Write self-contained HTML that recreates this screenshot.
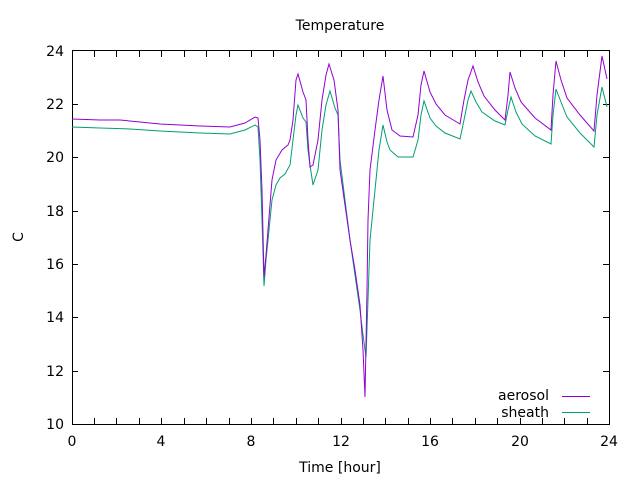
<!DOCTYPE html>
<html><head><style>body{margin:0;background:#fff}svg{display:block}text{font-family:"DejaVu Sans","Liberation Sans",sans-serif;font-size:14px;fill:#000}</style></head><body>
<svg width="640" height="480" viewBox="0 0 640 480">
<g stroke="#000" stroke-width="1" fill="none">
<rect x="72.5" y="50.5" width="537" height="374"/>
<path d="M72 371.5h6M609 371.5h-6M72 317.5h6M609 317.5h-6M72 264.5h6M609 264.5h-6M72 211.5h6M609 211.5h-6M72 157.5h6M609 157.5h-6M72 104.5h6M609 104.5h-6
M94.5 424v-6M94.5 51v6M116.5 424v-6M116.5 51v6M139.5 424v-6M139.5 51v6M161.5 424v-6M161.5 51v6M184.5 424v-6M184.5 51v6M206.5 424v-6M206.5 51v6M229.5 424v-6M229.5 51v6M251.5 424v-6M251.5 51v6M273.5 424v-6M273.5 51v6M296.5 424v-6M296.5 51v6M318.5 424v-6M318.5 51v6M341.5 424v-6M341.5 51v6M363.5 424v-6M363.5 51v6M385.5 424v-6M385.5 51v6M408.5 424v-6M408.5 51v6M430.5 424v-6M430.5 51v6M452.5 424v-6M452.5 51v6M475.5 424v-6M475.5 51v6M497.5 424v-6M497.5 51v6M520.5 424v-6M520.5 51v6M542.5 424v-6M542.5 51v6M564.5 424v-6M564.5 51v6M587.5 424v-6M587.5 51v6"/>
</g>
<g text-anchor="end">
<text x="64" y="429">10</text><text x="64" y="376">12</text><text x="64" y="322">14</text><text x="64" y="269">16</text><text x="64" y="216">18</text><text x="64" y="162">20</text><text x="64" y="109">22</text><text x="64" y="56">24</text>
</g>
<g text-anchor="middle">
<text x="72" y="446">0</text><text x="161" y="446">4</text><text x="251" y="446">8</text><text x="341" y="446">12</text><text x="430" y="446">16</text><text x="520" y="446">20</text><text x="609" y="446">24</text>
<text x="340" y="472">Time [hour]</text>
<text x="340" y="30">Temperature</text>
<text x="18" y="242" transform="rotate(-90 18 237)">C</text>
</g>
<text x="549" y="400" text-anchor="end">aerosol</text>
<text x="549" y="417" text-anchor="end">sheath</text>
<path d="M562 396.5h28" stroke="#9400d3"/>
<path d="M562 412.5h28" stroke="#009e73"/>
<polyline fill="none" stroke="#009e73" stroke-width="1" points="72,127 100,128 130,129 160,131 200,133 230,134 245,130 255,125 258,127 260,160 262,220 264,286 266,260 268,240 272,200 276,185 280,178 285,174 290,165 293,140 296,115 298,105 303,118 306,122 308,150 310,165 313,185 318,170 322,130 326,105 330,91 335,108 338,115 340,160 345,200 350,240 355,275 360,310 363,335 366,357 368,300 370,240 375,190 379,150 383,125 387,142 390,150 398,157 413,157 418,140 421,115 424,101 430,118 436,126 445,133 460,139 464,120 468,100 471,91 476,102 482,112 495,121 505,125 508,110 511,97 516,112 522,124 535,136 551,144 553,115 556,89 561,102 567,117 580,133 594,147 597,115 602,87 607,107"/>
<polyline fill="none" stroke="#9400d3" stroke-width="1" points="72,119 100,120 120,120 140,122 160,124 200,126 230,127 245,123 255,117 258,118 260,140 262,190 264,277 266,255 268,230 272,180 276,160 282,150 288,145 290,140 293,120 296,80 298,74 303,92 306,100 308,140 310,167 313,165 318,140 322,100 326,75 329,64 334,80 338,110 340,170 345,205 350,240 355,270 360,305 363,350 365,397 367,290 368,220 370,170 375,130 379,100 383,76 387,110 392,130 400,136 413,137 418,115 421,85 424,71 430,92 436,104 445,115 460,124 464,100 468,80 473,66 478,82 484,96 495,110 505,120 508,95 510,72 515,88 521,102 535,118 551,130 553,95 556,61 561,80 567,98 580,115 594,131 597,95 602,56 607,79"/>
</svg>
</body></html>
